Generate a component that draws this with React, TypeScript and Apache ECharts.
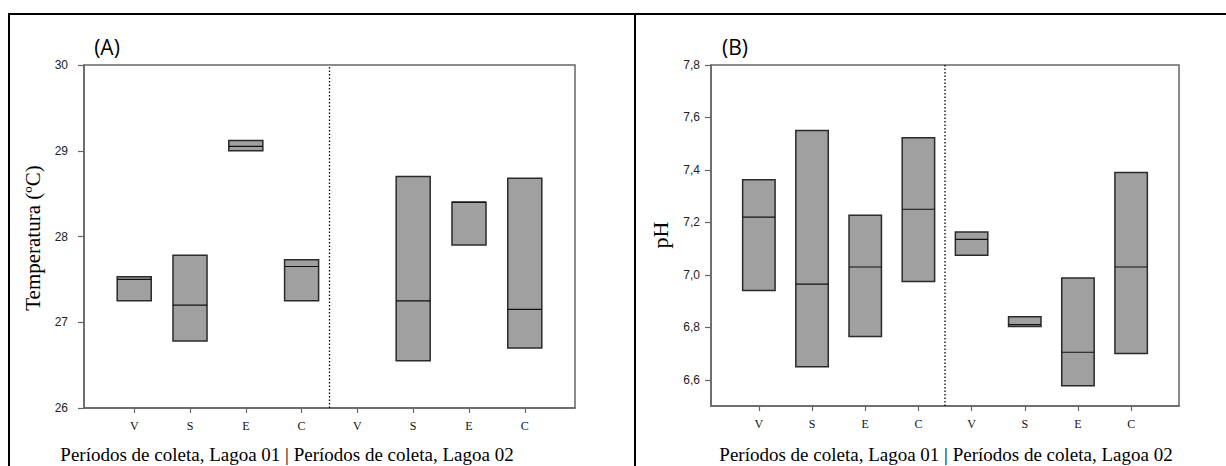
import React, { useEffect, useRef } from 'react';
import * as echarts from 'echarts';

// ---- data ----
const periods = ['V', 'S', 'E', 'C', 'V', 'S', 'E', 'C'];
const positions = [1, 2, 3, 4, 5, 6, 7, 8];
const tempLow = [27.25, 26.78, 29.0, 27.25, null, 26.55, 27.9, 26.7];
const tempMedian = [27.5, 27.2, 29.05, 27.65, null, 27.25, 28.4, 27.15];
const tempHigh = [27.53, 27.78, 29.12, 27.73, null, 28.7, 28.4, 28.68];
const phLow = [6.94, 6.65, 6.765, 6.975, 7.075, 6.803, 6.577, 6.7];
const phMedian = [7.22, 6.965, 7.03, 7.25, 7.135, 6.81, 6.705, 7.03];
const phHigh = [7.363, 7.55, 7.227, 7.523, 7.163, 6.84, 6.988, 7.39];
const tempTicks = [26, 27, 28, 29, 30];
const phTicks = [6.6, 6.8, 7.0, 7.2, 7.4, 7.6, 7.8];
const dividerAt = 4.5;

const xTitle = 'Períodos de coleta, Lagoa 01 | Períodos de coleta, Lagoa 02';

function buildBoxes(lo: (number | null)[], med: (number | null)[], hi: (number | null)[]) {
  const out: number[][] = [];
  positions.forEach((p, i) => {
    if (lo[i] == null || med[i] == null || hi[i] == null) return;
    out.push([p, lo[i] as number, med[i] as number, hi[i] as number]);
  });
  return out;
}

const BOX_W = 0.61;
const renderBox = (_params: any, api: any) => {
  const x = api.value(0);
  const lo = api.value(1);
  const med = api.value(2);
  const hi = api.value(3);
  const tl = api.coord([x - BOX_W / 2, hi]);
  const br = api.coord([x + BOX_W / 2, lo]);
  const ml = api.coord([x - BOX_W / 2, med]);
  const mr = api.coord([x + BOX_W / 2, med]);
  return {
    type: 'group',
    children: [
      {
        type: 'rect',
        shape: { x: tl[0], y: tl[1], width: br[0] - tl[0], height: br[1] - tl[1] },
        style: { fill: '#a0a0a0', stroke: '#2a2a2a', lineWidth: 1.5 },
      },
      {
        type: 'line',
        shape: { x1: ml[0], y1: ml[1], x2: mr[0], y2: mr[1] },
        style: { stroke: '#111', lineWidth: 1.2 },
      },
    ],
  };
};

const axisGray = '#666';

function xAxisCfg(gridIndex: number) {
  return {
    type: 'value',
    gridIndex,
    min: 0.1,
    max: 8.9,
    splitLine: { show: false },
    axisLine: { show: true, lineStyle: { color: axisGray, width: 1.5 } },
    axisTick: { show: true, length: 5, lineStyle: { color: axisGray, width: 1.2 }, customValues: positions },
    axisLabel: {
      customValues: positions,
      margin: 12,
      fontFamily: 'Liberation Serif',
      fontSize: 12,
      color: '#111',
      formatter: (v: number) => periods[Math.round(v) - 1] ?? '',
    },
  };
}

export default function App() {
  const ref = useRef<HTMLDivElement>(null);
  useEffect(() => {
    if (!ref.current) return;
    const chart = echarts.init(ref.current, undefined, { renderer: 'svg' });
    const frame = { stroke: '#000', lineWidth: 2 };
    chart.setOption({
      animation: false,
      backgroundColor: '#fff',
      grid: [
        { left: 84, top: 65, width: 491, height: 343, show: true, borderColor: axisGray, borderWidth: 1.5 },
        { left: 711, top: 65, width: 468, height: 341, show: true, borderColor: axisGray, borderWidth: 1.5 },
      ],
      xAxis: [xAxisCfg(0), xAxisCfg(1)],
      yAxis: [
        {
          type: 'value',
          gridIndex: 0,
          min: 26,
          max: 30,
          interval: 1,
          splitLine: { show: false },
          axisLine: { show: true, lineStyle: { color: axisGray, width: 1.5 } },
          axisTick: { show: true, length: 6, lineStyle: { color: axisGray, width: 1.2 } },
          axisLabel: {
            margin: 16,
            fontFamily: 'Liberation Sans',
            fontSize: 12,
            color: '#222',
            formatter: (v: number) => (tempTicks.includes(v) ? String(v) : ''),
          },
        },
        {
          type: 'value',
          gridIndex: 1,
          min: 6.5,
          max: 7.8,
          splitLine: { show: false },
          axisLine: { show: true, lineStyle: { color: axisGray, width: 1.5 } },
          axisTick: { show: true, length: 6, lineStyle: { color: axisGray, width: 1.2 }, customValues: phTicks },
          axisLabel: {
            customValues: phTicks,
            margin: 11,
            fontFamily: 'Liberation Sans',
            fontSize: 12,
            color: '#222',
            formatter: (v: number) => v.toFixed(1).replace('.', ','),
          },
        },
      ],
      series: [
        {
          type: 'custom',
          xAxisIndex: 0,
          yAxisIndex: 0,
          renderItem: renderBox,
          encode: { x: 0, y: [1, 2, 3] },
          data: buildBoxes(tempLow, tempMedian, tempHigh),
          silent: true,
        },
        {
          type: 'custom',
          xAxisIndex: 1,
          yAxisIndex: 1,
          renderItem: renderBox,
          encode: { x: 0, y: [1, 2, 3] },
          data: buildBoxes(phLow, phMedian, phHigh),
          silent: true,
        },
        {
          type: 'line',
          xAxisIndex: 0,
          yAxisIndex: 0,
          symbol: 'none',
          silent: true,
          lineStyle: { type: [1.5, 2], color: '#000', width: 1.3 },
          data: [[dividerAt, 26], [dividerAt, 30]],
        },
        {
          type: 'line',
          xAxisIndex: 1,
          yAxisIndex: 1,
          symbol: 'none',
          silent: true,
          lineStyle: { type: [1.5, 2], color: '#000', width: 1.3 },
          data: [[dividerAt, 6.5], [dividerAt, 7.8]],
        },
      ],
      graphic: [
        { type: 'line', shape: { x1: 8, y1: 14, x2: 1226, y2: 14 }, style: frame, silent: true },
        { type: 'line', shape: { x1: 9, y1: 13, x2: 9, y2: 466 }, style: frame, silent: true },
        { type: 'line', shape: { x1: 635, y1: 13, x2: 635, y2: 466 }, style: frame, silent: true },
        {
          type: 'text', x: 107, y: 47,
          style: { text: '(A)', font: '21px "Open Sans"', fill: '#000', align: 'center', verticalAlign: 'middle' },
        },
        {
          type: 'text', x: 735, y: 47,
          style: { text: '(B)', font: '21px "Open Sans"', fill: '#000', align: 'center', verticalAlign: 'middle' },
        },
        {
          type: 'text', x: 33, y: 238, rotation: Math.PI / 2,
          style: { text: 'Temperatura (ºC)', font: '21px "Liberation Serif"', fill: '#000', align: 'center', verticalAlign: 'middle' },
        },
        {
          type: 'text', x: 660, y: 235, rotation: Math.PI / 2,
          style: { text: 'pH', font: '22px "Liberation Serif"', fill: '#000', align: 'center', verticalAlign: 'middle' },
        },
        {
          type: 'text', x: 287, y: 454,
          style: { text: xTitle, font: '19px "Liberation Serif"', fill: '#000', align: 'center', verticalAlign: 'middle' },
        },
        {
          type: 'text', x: 946, y: 454,
          style: { text: xTitle, font: '19px "Liberation Serif"', fill: '#000', align: 'center', verticalAlign: 'middle' },
        },
      ],
    });
    return () => chart.dispose();
  }, []);
  return <div ref={ref} style={{ position: 'absolute', left: 0, top: 0, width: 1226, height: 466 }} />;
}
